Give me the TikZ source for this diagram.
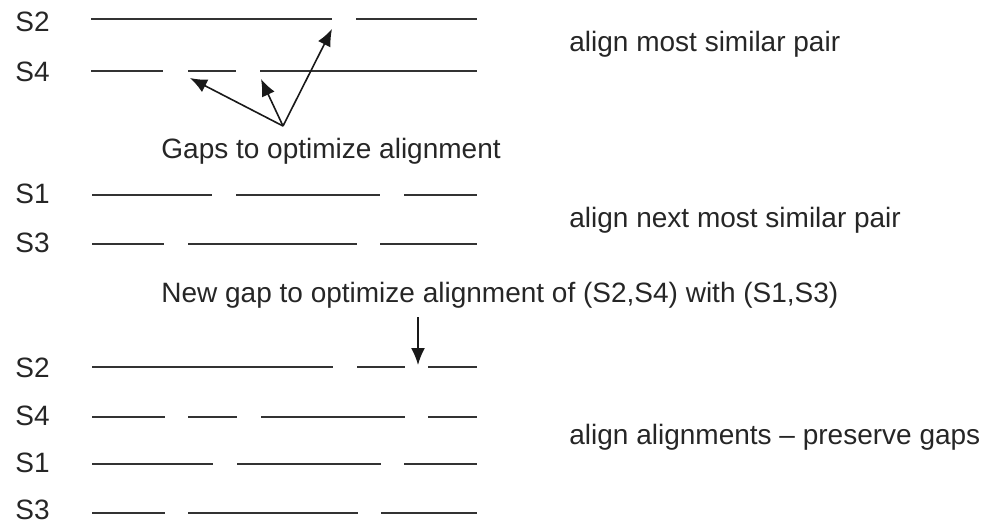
\documentclass[tikz,border=0pt]{standalone}
\usepackage{fontspec}
\setmainfont{Liberation Sans}
\usetikzlibrary{arrows.meta,positioning}
\tikzset{
  seqline/.style={line width=1pt,draw=black!80},
  seqlabel/.style={anchor=base west,inner sep=0pt,font=\fontsize{14}{16}\selectfont,text=black!85},
  note/.style={anchor=base west,inner sep=0pt,font=\fontsize{14}{16}\selectfont,text=black!85},
  gapArrow/.style={-{Latex[length=8.5pt,width=7pt]},line width=0.8pt,draw=black!90}
}

\begin{document}
\begin{tikzpicture}[x=0.5pt,y=-0.5pt]
  \useasboundingbox (0,0) rectangle (1001,524);

  % step 1: most similar pair
  \node[seqlabel] (s2a) at (15,32) {S2};
  \node[seqlabel] (s4a) at (15,82) {S4};
  \draw[seqline] (91,19)--(332,19) (356,19)--(477,19);
  \draw[seqline] (91,71)--(163,71) (188,71)--(236,71) (260,71)--(477,71);
  \node[note] (pair1) at (569,52) {align most similar pair};

  \coordinate (gapsrc) at (283,126);
  \coordinate (gapA) at (190,78);
  \coordinate (gapB) at (261,79);
  \coordinate (gapC) at (332,29);
  \draw[gapArrow] (gapsrc)--(gapA);
  \draw[gapArrow] (gapsrc)--(gapB);
  \draw[gapArrow] (gapsrc)--(gapC);
  \node[note] (gaps) at (161,158) {Gaps to optimize alignment};

  % step 2: next most similar pair
  \node[seqlabel] (s1b) at (15,203) {S1};
  \node[seqlabel] (s3b) at (15,252) {S3};
  \draw[seqline] (92,195)--(212,195) (236,195)--(380,195) (404,195)--(477,195);
  \draw[seqline] (92,244)--(164,244) (188,244)--(357,244) (380,244)--(477,244);
  \node[note] (pair2) at (569,227) {align next most similar pair};

  \node[note] (newgaps) at (161,302) {New gap to optimize alignment of (S2,S4) with (S1,S3)};
  \coordinate (newtop) at (418,317);
  \coordinate (newgap) at (418,365);
  \draw[gapArrow] (newtop)--(newgap);

  % step 3: align alignments
  \node[seqlabel] (s2c) at (15,377) {S2};
  \node[seqlabel] (s4c) at (15,425) {S4};
  \node[seqlabel] (s1c) at (15,472) {S1};
  \node[seqlabel] (s3c) at (15,519) {S3};
  \draw[seqline] (92,367)--(333,367) (357,367)--(405,367) (428,367)--(477,367);
  \draw[seqline] (92,417)--(165,417) (188,417)--(237,417) (261,417)--(405,417) (428,417)--(477,417);
  \draw[seqline] (92,464)--(213,464) (237,464)--(381,464) (404,464)--(477,464);
  \draw[seqline] (92,513)--(165,513) (188,513)--(358,513) (381,513)--(477,513);
  \node[note] (pair3) at (569,444) {align alignments -- preserve gaps};
\end{tikzpicture}
\end{document}
